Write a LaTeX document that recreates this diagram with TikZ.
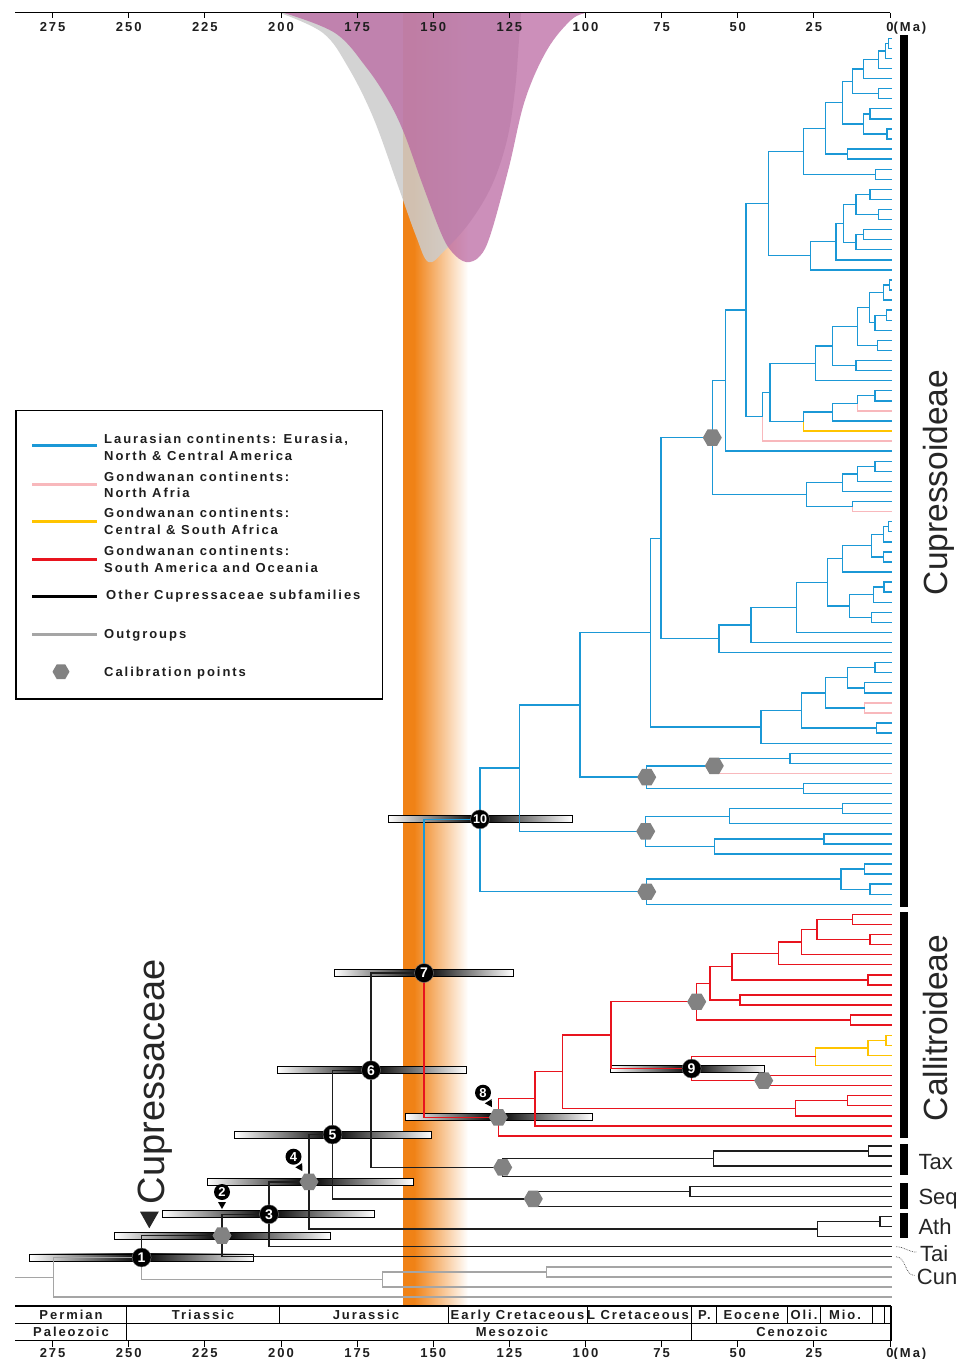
\documentclass[tikz,border=0pt]{standalone}
\usepackage{fontspec}
\setmainfont{Liberation Sans}
\newfontfamily\spfont[LetterSpace=15]{Liberation Sans}
\usetikzlibrary{calc,shapes.geometric}
\pgfdeclarelayer{back}
\pgfdeclarelayer{bars}
\pgfsetlayers{back,bars,main}

\definecolor{cblue}{RGB}{27,152,214}
\definecolor{cred}{RGB}{232,20,30}
\definecolor{cpink}{RGB}{248,184,188}
\definecolor{cyel}{RGB}{255,196,0}
\definecolor{cblk}{RGB}{30,30,30}
\definecolor{cgry}{RGB}{165,165,165}
\definecolor{chex}{RGB}{130,130,130}
\definecolor{corange}{RGB}{240,130,22}
\definecolor{cdens}{RGB}{204,204,204}
\definecolor{cpurp}{RGB}{185,100,160}

% internal node: name, x, child 1, child 2, style of branch 1, style of branch 2
\newcommand\brc[6]{%
  \path let \p1=($(#3)!0.5!(#4)$) in coordinate (#1) at (#2pt,\y1);
  \draw[br,#5] (#1) |- (#3);
  \draw[br,#6] (#1) |- (#4);}
\newcommand\brn[4]{\brc{#1}{#2}{#3}{#4}{}{}}
% internal node with a fixed height
\newcommand\bry[7]{%
  \coordinate (#1) at (#2,#3);
  \draw[br,#6] (#1) |- (#4);
  \draw[br,#7] (#1) |- (#5);}
% age interval bar around a node
\newcommand\hpd[3]{%
  \shade[left color=white,right color=black] let \p1=(#1) in
     (#2pt,\y1-3.5pt) rectangle (\x1,\y1+3.5pt);
  \shade[left color=black,right color=white] let \p1=(#1) in
     (\x1,\y1-3.5pt) rectangle (#3pt,\y1+3.5pt);
  \draw[line width=0.9pt] let \p1=(#1) in
     (#2pt,\y1-3.5pt) rectangle (#3pt,\y1+3.5pt);}

\begin{document}
\begin{tikzpicture}[x=1pt,y=-1pt,
  tree/.style={line width=1.4pt,line cap=rect},
  br/.style={tree,draw=cblk},
  pk/.style={draw=cpink},
  yl/.style={draw=cyel},
  gy/.style={draw=cgry},
  hexa/.style={regular polygon,regular polygon sides=6,fill=chex,inner sep=0pt,minimum size=19pt},
  numc/.style={circle,fill=black,draw=black!50,line width=0.4pt,text=white,inner sep=0pt,minimum size=19pt,
    font=\fontsize{14}{14}\selectfont\bfseries},
  labc/.style={circle,fill=black,text=white,inner sep=0pt,minimum size=16pt,
    font=\fontsize{13}{13}\selectfont\bfseries},
  bold/.style={font=\spfont\bfseries\fontsize{13}{13}\selectfont,text=cblk,inner sep=0pt,text height=9.3pt,text depth=0pt},
  lg/.style={bold,anchor=west},
  grp/.style={font=\fontsize{33.5}{33.5}\selectfont,text=black!85,inner sep=0pt,rotate=90,anchor=base},
  sub/.style={font=\fontsize{22}{22}\selectfont,text=black!85,inner sep=0pt,anchor=base west},
  legline/.style={line width=3pt}]

\useasboundingbox (0,0) rectangle (974,1359);

% ---------- background: time band and age densities ----------
\begin{pgfonlayer}{back}
\fill[white] (0,0) rectangle (974,1359);
\fill[corange] (402.7,13) rectangle (414,1306);
\shade[left color=corange,right color=white] (414,13) rectangle (468,1306);
\fill[cdens,opacity=0.85] plot[smooth,tension=0.6] coordinates {(280,13) (323,33) (348,67) (373,117) (397,183) (416,236) (428.5,262) (445,250) (470,222) (492,185) (507,140) (515,90) (519,40) (521,13)} -- cycle;
\fill[cpurp,opacity=0.72] plot[smooth,tension=0.6] coordinates {(284,13) (335,33) (366,67) (388,100) (404,133) (422,183) (441,233) (452,252) (466,262) (480,256) (491,233) (509,167) (525,100) (547,50) (571,20) (586,13)} -- cycle;
\end{pgfonlayer}

% ---------- tips ----------
\foreach \k in {0,...,125}{\coordinate (t\k) at (891,{38.3+10.07*\k});}

% ---------- Cupressoideae ----------
\begin{scope}[br/.style={tree,draw=cblue}]
\brn{A0}{888.3}{t0}{t1}
\brn{A1}{885.5}{A0}{t2}
\brn{A2}{878.3}{A1}{t3}
\brn{A3}{863.3}{A2}{t4}
\brn{Bb}{878.3}{t5}{t6}
\brn{A4}{852.5}{A3}{Bb}
\brn{Cc1}{870}{t7}{t8}
\brn{Cc2}{887}{t9}{t10}
\brn{Cc}{863.3}{Cc1}{Cc2}
\brn{A5}{842.2}{A4}{Cc}
\brn{Dd}{847.7}{t11}{t12}
\brn{A6}{825.5}{A5}{Dd}
\brn{Ee}{875.7}{t13}{t14}
\brn{A7}{803.3}{A6}{Ee}
\brn{F1}{870}{t15}{t16}
\brn{F2}{878.3}{t17}{t18}
\brn{F3}{856}{F1}{F2}
\brn{F4}{863.3}{t19}{t20}
\brn{F5}{856}{F4}{t21}
\brn{F6}{843.3}{F3}{F5}
\brn{F7}{836}{F6}{t22}
\brn{Ff}{810.7}{F7}{t23}
\brn{A8}{768.3}{A7}{Ff}
\brn{K0}{889.3}{t24}{t25}
\brn{K1}{883.3}{K0}{t26}
\brn{Kk}{886.7}{t27}{t28}
\brn{Mm}{875}{Kk}{t29}
\brn{L1}{869.3}{K1}{Mm}
\brn{Nn}{877.7}{t30}{t31}
\brn{L2}{857.7}{L1}{Nn}
\brn{Oo}{856}{t32}{t33}
\brn{L3}{832.3}{L2}{Oo}
\brn{L4}{815.7}{L3}{t34}
\brn{Ss}{875}{t35}{t36}
\brc{Rr}{857.7}{Ss}{t37}{}{pk}
\brn{Qq}{832.3}{Rr}{t38}
\brc{Pp}{803.3}{Qq}{t39}{}{yl}
\brn{L5}{770}{L4}{Pp}
\brc{Jj}{762.7}{L5}{t40}{}{pk}
\brn{A9}{746}{A8}{Jj}
\brn{Tt}{725.7}{A9}{t41}
\brn{W2}{875}{t42}{t43}
\brn{W1}{857.7}{W2}{t44}
\brn{Ww}{842.7}{W1}{t45}
\brc{Xx}{852.7}{t46}{t47}{}{pk}
\brn{Uu}{806.7}{Ww}{Xx}
\brn{Vv}{712.3}{Tt}{Uu}
\brn{Z9}{888.3}{t48}{t49}
\brn{Z7}{883.3}{Z9}{t50}
\brn{Z8}{883.3}{t51}{t52}
\brn{Z6}{871.7}{Z7}{Z8}
\brn{Z4}{842.7}{Z6}{t53}
\brn{Z12}{884}{t54}{t55}
\brn{Z10}{873.3}{Z12}{t56}
\brn{Z11}{871.7}{t57}{t58}
\brn{Z5}{849.3}{Z10}{Z11}
\brn{Z3}{827.3}{Z4}{Z5}
\brn{Z2}{796.7}{Z3}{t59}
\brn{Z1}{751}{Z2}{t60}
\brn{Zz}{719}{Z1}{t61}
\brn{Yy}{661}{Vv}{Zz}
\brn{AA6}{875}{t62}{t63}
\brn{AA7}{864.3}{t64}{t65}
\brn{AA4}{847.3}{AA6}{AA7}
\brc{AA5}{864.3}{t66}{t67}{pk}{pk}
\brn{AA2}{825.7}{AA4}{AA5}
\brn{AA3}{876.7}{t68}{t69}
\brn{AA1}{801.7}{AA2}{AA3}
\brn{AAa}{761}{AA1}{t70}
\brn{YA}{650.7}{Yy}{AAa}
\brn{AE}{790}{t71}{t72}
\brc{AC}{714.3}{AE}{t73}{}{pk}
\brn{AD}{803.3}{t74}{t75}
\brn{AB}{646.7}{AC}{AD}
\brn{YB}{580}{YA}{AB}
\brn{AG1}{842.7}{t76}{t77}
\brn{AG}{729.3}{AG1}{t78}
\brn{AH1}{824}{t79}{t80}
\brn{AH}{714.3}{AH1}{t81}
\brn{AF}{645.7}{AG}{AH}
\brn{AK}{519.3}{YB}{AF}
\brn{AJ1}{864.3}{t82}{t83}
\brn{AJ2}{870}{t84}{t85}
\brn{AJ}{841}{AJ1}{AJ2}
\brn{AI}{646.7}{AJ}{t86}
\bry{N10}{480}{819.3}{AK}{AI}{}{}
\end{scope}

% ---------- Callitroideae ----------
\begin{scope}[br/.style={tree,draw=cred}]
\brn{B1}{852.7}{t87}{t88}
\brn{B2}{870}{t89}{t90}
\brn{B3}{816.8}{B1}{B2}
\brn{B4}{801.4}{B3}{t91}
\brn{B5}{778.3}{B4}{t92}
\brn{B6}{868}{t93}{t94}
\brn{B7}{732}{B5}{B6}
\brn{B8}{739.8}{t95}{t96}
\brn{B9}{710}{B7}{B8}
\brn{B10}{850.7}{t97}{t98}
\brn{B11}{696.7}{B9}{B10}
\brc{C1}{886}{t99}{t100}{yl}{yl}
\brc{C2}{868}{C1}{t101}{yl}{yl}
\brc{C3}{815.7}{C2}{t102}{yl}{yl}
\brn{C4}{763.7}{t103}{t104}
\brn{N9}{691.6}{C3}{C4}
\brn{C5}{610.8}{B11}{N9}
\brn{C6}{847.7}{t105}{t106}
\brn{C7}{795.7}{C6}{t107}
\brn{C8}{562.6}{C5}{C7}
\brn{C9}{534.9}{C8}{t108}
\brn{N8}{498.3}{C9}{t109}
\end{scope}

% ---------- backbone, other subfamilies, outgroups ----------
\bry{N7}{424}{973}{N10}{N8}{draw=cblue}{draw=cred}
\brn{T1}{868.3}{t110}{t111}
\brn{T2}{713.3}{T1}{t112}
\brn{TX}{502.7}{T2}{t113}
\brn{N6}{371}{N7}{TX}
\brn{S1}{690}{t114}{t115}
\brn{SQ}{533.3}{S1}{t116}
\brn{N5}{332.5}{N6}{SQ}
\brn{AT1}{880}{t117}{t118}
\brn{ATH}{817.3}{AT1}{t119}
\brn{N4}{309}{N5}{ATH}
\brn{N3}{269}{N4}{t120}
\brn{N2}{222}{N3}{t121}
\brc{G1}{546.5}{t122}{t123}{gy}{gy}
\brc{G2}{382.7}{G1}{t124}{gy}{gy}
\brc{N1}{141.6}{N2}{G2}{}{gy}
\brc{RT}{53.6}{N1}{t125}{gy}{gy}
\coordinate (stem) at ($(RT)+(-38.3,0)$);
\draw[tree,draw=cgry] (stem) -- (RT);

% ---------- age bars ----------
\begin{pgfonlayer}{bars}
\hpd{N10}{388}{572}
\hpd{N7}{334}{513}
\hpd{N6}{277}{466}
\hpd{N5}{234.6}{431.7}
\hpd{N4}{207}{413}
\hpd{N3}{162}{374}
\hpd{N2}{114}{330}
\hpd{N1}{29.5}{253.7}
\hpd{N8}{405.7}{592.4}
\hpd{N9}{610.8}{764.8}
\end{pgfonlayer}

% ---------- calibration points ----------
\foreach \n in {Vv,AB,AC,AF,AI,B11,C4,N8,TX,SQ,N4,N2}{\node[hexa] (h\n) at (\n) {};}

% ---------- numbered nodes ----------
\node[numc,font=\fontsize{12.5}{12.5}\selectfont\bfseries] (c10) at (N10) {10};
\node[numc] (c7) at (N7) {7};
\node[numc] (c6) at (N6) {6};
\node[numc] (c5) at (N5) {5};
\node[numc] (c3) at (N3) {3};
\node[numc] (c1) at (N1) {1};
\node[numc] (c9) at (N9) {9};

\node[labc] (l8) at (483,1092.7) {8};
\node[labc] (l4) at (293.5,1156.7) {4};
\node[labc] (l2) at (222,1192) {2};
\foreach \a/\b in {l8/hN8,l4/hN4,l2/hN2}{
  \coordinate (p\a) at ($(\a)!10pt!(\b)$);
  \fill ($(\a)!17pt!(\b)$) -- ($(p\a)!4pt!90:(\b)$) -- ($(p\a)!4pt!-90:(\b)$) -- cycle;}

% ---------- clade bars and names ----------
\fill (900,35) rectangle (908,906.7);
\fill (900,911.7) rectangle (908,1138);
\fill (900,1144) rectangle (908,1175);
\fill (900,1183.3) rectangle (908,1209.3);
\fill (900,1213.3) rectangle (908,1238.3);
\node[grp] (cupo) at (947,482.5) {Cupressoideae};
\node[grp] (call) at (947.5,1028) {Callitroideae};
\node[sub] (tax) at (918.3,1169) {Tax};
\node[sub] (seq) at (918.3,1204) {Seq};
\node[sub] (ath) at (918.3,1234) {Ath};
\node[sub] (tai) at (920,1261) {Tai};
\node[sub] (cun) at (916.7,1284) {Cun};
\draw[black!70,line width=0.7pt,densely dotted] ([xshift=5pt]t120) to[out=0,in=180] ([xshift=-3pt,yshift=1pt]tai.west);
\draw[black!70,line width=0.7pt,densely dotted] ([xshift=5pt]t121) to[out=0,in=180] ([xshift=-2pt,yshift=1pt]cun.west);

\fill[black!85] (140,1211.7) -- (158.8,1211.7) -- (149.3,1228.3) -- cycle;
\node[grp,font=\fontsize{38}{38}\selectfont] (cupa) at (164.5,1081.5) {Cupressaceae};

% ---------- time axes ----------
\draw[line width=1.5pt] (15.3,12.7) -- (890,12.7);
\foreach \a in {0,25,...,275}{
  \draw[line width=1pt] ({890-3.045*\a},12.7) -- ({890-3.045*\a},18.3);
  \node[bold] (ta\a) at ({890-3.045*\a},27.3) {\a};
  \draw[line width=1pt] ({890-3.045*\a},1340.5) -- ({890-3.045*\a},1346.5);
  \node[bold] (ba\a) at ({890-3.045*\a},1352.5) {\a};}
\node[bold,anchor=west] (maT) at (893.5,27.3) {(Ma)};
\node[bold,anchor=west] (maB) at (893.5,1352.5) {(Ma)};

% ---------- geological time scale ----------
\draw[line width=1.6pt] (15.3,1306) -- (891,1306) (15.3,1323.3) -- (891,1323.3) (15.3,1340.5) -- (891,1340.5);
\draw[line width=0.9pt] foreach \xx in {126,279.5,448.4,587,691,716,787.6,820,872.7,884} {(\xx,1306) -- (\xx,1323.3)};
\draw[line width=0.9pt] foreach \xx in {126,691} {(\xx,1323.3) -- (\xx,1340.5)};
\draw[line width=1.2pt] (891,1306) -- (891,1340.5);
\node[bold] (pe1) at (71,1314.6) {Permian};
\node[bold] (pe2) at (203,1314.6) {Triassic};
\node[bold] (pe3) at (366,1314.6) {Jurassic};
\node[bold] (pe4) at (517.5,1314.6) {Early Cretaceous};
\node[bold] (pe5) at (638,1314.6) {L Cretaceous};
\node[bold] (pe6) at (704.5,1314.6) {P.};
\node[bold] (pe7) at (751.5,1314.6) {Eocene};
\node[bold] (pe8) at (804,1314.6) {Oli.};
\node[bold] (pe9) at (845,1314.6) {Mio.};
\node[bold] (er1) at (71,1332) {Paleozoic};
\node[bold] (er2) at (512,1332) {Mesozoic};
\node[bold] (er3) at (792,1332) {Cenozoic};

% ---------- legend ----------
\draw[line width=1.2pt] (16,410.7) rectangle (382.7,699);
\draw[legline,cblue] (32,445.7) -- (97,445.7);
\draw[legline,cpink] (32,484) -- (97,484);
\draw[legline,cyel] (32,521.7) -- (97,521.7);
\draw[legline,cred] (32,559) -- (97,559);
\draw[legline,black] (32,596.7) -- (97,596.7);
\draw[legline,cgry] (32,634) -- (97,634);
\node[hexa,minimum size=17pt] (lghex) at (61,671.7) {};
\node[lg] (lg1) at (104,439.3) {Laurasian continents: Eurasia,};
\node[lg] (lg2) at (104,455.7) {North \& Central America};
\node[lg] (lg3) at (104,476.7) {Gondwanan continents:};
\node[lg] (lg4) at (104,493.3) {North Afria};
\node[lg] (lg5) at (104,513.3) {Gondwanan continents:};
\node[lg] (lg6) at (104,530) {Central \& South Africa};
\node[lg] (lg7) at (104,551) {Gondwanan continents:};
\node[lg] (lg8) at (104,567.7) {South America and Oceania};
\node[lg] (lg9) at (106,595) {Other Cupressaceae subfamilies};
\node[lg] (lg10) at (104,634) {Outgroups};
\node[lg] (lg11) at (104,671.7) {Calibration points};
\end{tikzpicture}
\end{document}
